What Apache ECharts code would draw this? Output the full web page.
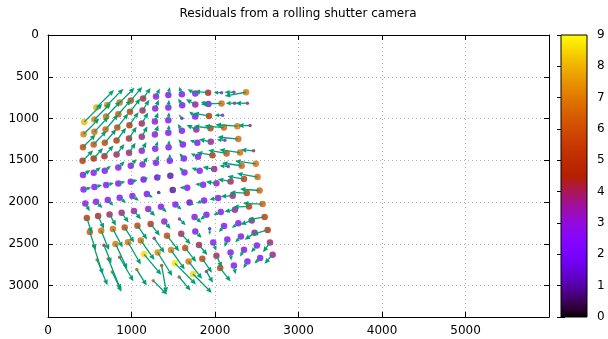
<!DOCTYPE html>
<html>
<head>
<meta charset="utf-8">
<script src="https://cdn.jsdelivr.net/npm/echarts@6/dist/echarts.min.js"></script>
<title>Residuals from a rolling shutter camera</title>
<style>
  html, body { margin: 0; padding: 0; background: #fff; }
  #main { width: 608px; height: 339px; }
</style>
</head>
<body>
<div id="main"></div>
<script>
// one array per row of the calibration grid (top to bottom)
// each point: [x, y, residual, direction (deg, 0 = right, 90 = up), arrow length, small marker]
var rowA = [
  [580, 869, 7.8, 45, 7.8, 0], [709, 837, 7.0, 45, 7.2, 0], [858, 809, 6.5, 45, 6.6, 0],
  [991, 785, 5.5, 50, 5.6, 0], [1139, 761, 4.2, 55, 4.1, 0], [1293, 737, 2.8, 65, 2.8, 0],
  [1441, 717, 2.5, 80, 2.5, 0], [1603, 709, 2.5, 110, 2.5, 0], [1764, 701, 2.8, 150, 2.8, 0],
  [1917, 690, 4.3, 175, 4.3, 0], [2078, 690, 2.5, 180, 2.5, 1], [2226, 685, 3.0, 180, 3.0, 1],
  [2371, 685, 6.8, 190, 6.8, 0]
];
var rowB = [
  [435, 1040, 8.0, 45, 8.0, 0], [556, 1012, 7.0, 45, 7.2, 0], [697, 976, 6.5, 47, 6.6, 0],
  [842, 948, 6.0, 48, 6.0, 0], [982, 920, 5.2, 52, 5.3, 0], [1132, 905, 4.0, 58, 4.0, 0],
  [1284, 881, 3.0, 68, 3.0, 0], [1441, 869, 2.5, 85, 2.5, 0], [1607, 842, 2.5, 120, 2.5, 0],
  [1764, 833, 3.5, 150, 3.4, 0], [1921, 825, 2.5, 165, 2.5, 0], [2078, 819, 6.5, 182, 6.5, 0],
  [2235, 816, 2.8, 180, 2.8, 1], [2388, 816, 3.8, 180, 3.8, 1]
];
var rowC = [
  [426, 1187, 7.0, 45, 7.0, 0], [556, 1159, 6.5, 47, 6.5, 0], [689, 1132, 6.2, 50, 6.2, 0],
  [830, 1108, 5.5, 52, 5.6, 0], [975, 1079, 5.0, 55, 5.0, 0], [1123, 1060, 4.0, 60, 4.0, 0],
  [1280, 1036, 3.0, 70, 3.0, 0], [1441, 1019, 2.5, 85, 2.5, 0], [1603, 995, 1.5, 130, 1.5, 1],
  [1764, 976, 2.5, 140, 2.5, 0], [1927, 968, 5.0, 170, 5.0, 0], [2090, 960, 2.5, 180, 2.5, 1]
];
var rowD = [
  [419, 1342, 5.5, 45, 5.6, 0], [547, 1311, 5.8, 47, 5.9, 0], [680, 1291, 5.5, 50, 5.6, 0],
  [821, 1263, 5.0, 53, 5.0, 0], [970, 1239, 4.2, 57, 4.4, 0], [1123, 1219, 3.8, 62, 3.8, 0],
  [1280, 1191, 3.0, 70, 3.1, 0], [1441, 1171, 2.5, 85, 2.5, 0], [1603, 1147, 2.5, 120, 2.5, 0],
  [1776, 1132, 3.5, 155, 3.4, 0], [1945, 1117, 5.2, 172, 5.3, 0], [2106, 1108, 6.3, 175, 6.2, 0],
  [2267, 1091, 6.8, 176, 6.9, 0], [2420, 1084, 3.8, 180, 3.8, 1]
];
var rowE = [
  [414, 1506, 4.8, 45, 4.7, 0], [547, 1478, 4.5, 48, 4.4, 0], [676, 1450, 4.3, 50, 4.4, 0],
  [821, 1430, 4.0, 53, 4.1, 0], [970, 1410, 3.8, 57, 3.8, 0], [1123, 1386, 3.0, 62, 3.1, 0],
  [1284, 1362, 2.6, 70, 2.5, 0], [1444, 1342, 2.3, 85, 2.2, 0], [1615, 1311, 2.3, 130, 2.2, 0],
  [1788, 1291, 2.4, 160, 2.5, 0], [1949, 1279, 3.6, 168, 3.8, 0], [2118, 1261, 2.5, 175, 2.5, 1],
  [2279, 1246, 6.5, 174, 6.6, 0]
];
var rowF = [
  [419, 1677, 2.8, 35, 2.8, 0], [547, 1649, 2.7, 38, 2.8, 0], [680, 1625, 2.6, 40, 2.5, 0],
  [842, 1586, 2.8, 45, 2.8, 0], [991, 1565, 2.7, 50, 2.8, 0], [1132, 1550, 2.7, 55, 2.8, 0],
  [1293, 1530, 2.4, 70, 2.5, 0], [1458, 1506, 2.3, 90, 2.2, 0], [1627, 1478, 2.2, 130, 2.2, 0],
  [1796, 1458, 2.5, 155, 2.5, 0], [1969, 1438, 5.0, 170, 5.0, 0], [2138, 1418, 5.8, 170, 5.9, 0],
  [2299, 1407, 6.5, 172, 6.6, 0], [2461, 1386, 4.0, 175, 4.0, 1]
];
var rowG = [
  [426, 1849, 2.6, 15, 2.5, 0], [556, 1820, 2.5, 15, 2.5, 0], [697, 1796, 2.5, 15, 2.5, 0],
  [842, 1777, 2.4, 15, 2.3, 0], [991, 1757, 2.2, 15, 2.2, 0], [1144, 1729, 1.7, 20, 1.6, 0],
  [1308, 1705, 1.5, 30, 1.4, 0], [1465, 1685, 1.2, 90, 1.1, 0], [1634, 1646, 2.3, 135, 2.3, 0],
  [1816, 1625, 2.7, 160, 2.7, 0], [1990, 1605, 3.7, 170, 3.7, 0], [2159, 1574, 2.8, 175, 2.8, 1],
  [2319, 1565, 6.3, 172, 6.3, 0], [2488, 1542, 6.6, 172, 6.6, 0]
];
var rowH = [
  [447, 2016, 2.7, -60, 2.8, 0], [576, 1996, 2.7, -45, 2.8, 0], [716, 1975, 2.5, -45, 2.5, 0],
  [858, 1948, 2.6, -40, 2.6, 0], [1011, 1928, 2.5, -35, 2.5, 0], [1184, 1904, 2.3, -30, 2.2, 0],
  [1325, 1885, 0.8, -20, 0.8, 1], [1494, 1856, 1.0, 30, 1.0, 0], [1667, 1828, 2.4, 180, 2.4, 0],
  [1857, 1793, 2.5, 175, 2.5, 0], [2017, 1775, 3.3, 172, 3.4, 0], [2186, 1753, 4.0, 170, 4.1, 0],
  [2347, 1724, 5.2, 170, 5.3, 0], [2509, 1700, 6.5, 170, 6.6, 0]
];
var rowI = [
  [465, 2189, 5.0, -72, 5.0, 0], [600, 2167, 4.3, -65, 4.4, 0], [737, 2147, 4.0, -60, 4.1, 0],
  [882, 2127, 3.8, -55, 3.8, 0], [1030, 2107, 3.5, -50, 3.4, 0], [1200, 2083, 3.0, -45, 3.1, 0],
  [1353, 2055, 2.5, -45, 2.5, 0], [1526, 2028, 2.5, -40, 2.5, 0], [1695, 2004, 1.5, -30, 1.6, 0],
  [1869, 1980, 2.5, 200, 2.5, 0], [2038, 1951, 2.7, 190, 2.8, 0], [2211, 1924, 3.8, 183, 3.8, 0],
  [2380, 1892, 5.2, 178, 5.3, 0], [2533, 1861, 6.3, 176, 6.2, 0]
];
var rowJ = [
  [501, 2357, 6.0, -72, 6.0, 0], [637, 2342, 6.5, -68, 6.6, 0], [777, 2322, 6.5, -62, 6.6, 0],
  [918, 2303, 5.5, -58, 5.6, 0], [1071, 2282, 5.3, -55, 5.3, 0], [1229, 2261, 4.8, -52, 4.7, 0],
  [1393, 2231, 3.0, -50, 3.1, 0], [1574, 2202, 3.0, -45, 2.8, 1], [1755, 2178, 2.8, -40, 2.8, 0],
  [1897, 2151, 2.5, 220, 2.5, 0], [2069, 2119, 2.6, 200, 2.5, 0], [2238, 2091, 3.5, 190, 3.4, 0],
  [2407, 2052, 5.0, 182, 5.0, 0], [2569, 2023, 6.2, 178, 6.2, 0]
];
var rowK = [
  [547, 2525, 5.5, -72, 9.4, 1], [670, 2515, 4.0, -68, 6.2, 1], [809, 2500, 6.8, -65, 8.7, 0],
  [958, 2480, 6.7, -60, 8.1, 0], [1111, 2458, 6.5, -55, 7.5, 0], [1272, 2434, 3.8, -55, 5.6, 1],
  [1425, 2402, 5.5, -52, 6.2, 0], [1595, 2380, 4.0, -48, 4.4, 0], [1764, 2352, 2.7, -45, 2.8, 0],
  [1936, 2318, 1.8, -90, 1.9, 1], [2108, 2285, 2.5, 230, 2.5, 0], [2279, 2253, 2.6, 215, 2.5, 0],
  [2440, 2219, 3.7, 200, 3.8, 0], [2594, 2178, 5.2, 190, 5.3, 0]
];
var rowL = [
  [588, 2689, 6.3, -68, 8.7, 1], [721, 2677, 6.0, -68, 10.6, 1], [858, 2661, 5.5, -60, 8.7, 1],
  [1151, 2625, 8.5, -50, 8.4, 0], [1313, 2603, 7.2, -58, 8.7, 0], [1474, 2574, 6.8, -55, 7.5, 0],
  [1643, 2548, 5.5, -52, 5.6, 0], [1808, 2513, 4.0, -50, 4.1, 0], [1978, 2482, 2.7, -70, 2.8, 0],
  [2147, 2447, 2.6, 250, 2.5, 0], [2310, 2412, 2.7, 225, 2.5, 0], [2473, 2368, 3.6, 215, 3.8, 0],
  [2630, 2333, 4.8, 197, 5.0, 0]
];
var rowM = [
  [769, 2836, 6.3, -65, 6.9, 1], [1063, 2808, 6.2, -58, 5.9, 1], [1361, 2760, 5.3, -80, 8.7, 1],
  [1520, 2733, 8.7, -45, 9.4, 0], [1683, 2710, 6.8, -52, 6.9, 0], [1848, 2679, 5.3, -55, 5.3, 0],
  [2017, 2641, 4.0, -65, 4.1, 0], [2186, 2603, 2.6, -85, 2.5, 0], [2347, 2569, 2.6, 240, 2.5, 0],
  [2501, 2519, 2.7, 230, 2.8, 0], [2658, 2482, 3.8, 235, 3.8, 0]
];
var rowN = [
  [1260, 2940, 6.3, -45, 6.2, 1], [1570, 2896, 5.5, -50, 5.6, 1], [1736, 2860, 8.5, -45, 8.4, 0],
  [1897, 2829, 4.0, -60, 4.1, 1], [2062, 2790, 5.2, -52, 5.3, 0], [2226, 2758, 2.7, -80, 2.8, 0],
  [2388, 2710, 2.6, 240, 2.5, 0], [2540, 2668, 2.5, 225, 2.5, 0], [2690, 2629, 3.7, 228, 3.8, 0]
];

var rows = [rowA, rowB, rowC, rowD, rowE, rowF, rowG, rowH, rowI, rowJ, rowK, rowL, rowM, rowN];
var points = [].concat.apply([], rows);

var FONT = 'DejaVu Sans';
var ARROW = '#009e73';
var VSCALE = 38; // image units per residual unit

// gnuplot default palette (rgbformulae 7,5,15)
function pal(t) {
  var r = Math.sqrt(t), g = t * t * t, b = Math.max(0, Math.sin(2 * Math.PI * t));
  return 'rgb(' + Math.round(r * 255) + ',' + Math.round(g * 255) + ',' + Math.round(b * 255) + ')';
}
var palColors = [], barStops = [];
for (var i = 0; i <= 40; i++) {
  palColors.push(pal(i / 40));
  barStops.push({ offset: i / 40, color: pal(1 - i / 40) });
}

function renderArrow(params, api) {
  var x = api.value(0), y = api.value(1);
  var ang = api.value(3) * Math.PI / 180, len = api.value(4) * VSCALE;
  var p0 = api.coord([x, y]);
  var p1 = api.coord([x + Math.cos(ang) * len, y - Math.sin(ang) * len]);
  var dx = p1[0] - p0[0], dy = p1[1] - p0[1];
  var L = Math.sqrt(dx * dx + dy * dy);
  if (L < 0.5) return;
  var ux = dx / L, uy = dy / L;
  var h = Math.min(5.5, L * 0.55), w = h * 0.45;
  var bx = p1[0] - ux * h, by = p1[1] - uy * h;
  return {
    type: 'group',
    children: [
      { type: 'line', shape: { x1: p0[0], y1: p0[1], x2: bx, y2: by },
        style: { stroke: ARROW, lineWidth: 1.3 } },
      { type: 'polygon', shape: { points: [[p1[0], p1[1]], [bx - uy * w, by + ux * w], [bx + uy * w, by - ux * w]] },
        style: { fill: ARROW } }
    ]
  };
}

function plain(v) { return String(v); }

var axisLineBlack = { show: true, onZero: false, lineStyle: { color: '#000', width: 1 } };
var tickIn = { show: true, inside: true, length: 5, lineStyle: { color: '#000' } };
var gridDots = { show: true, lineStyle: { color: '#b4b4b4', width: 1, type: [1, 3] } };
var labelStyle = { color: '#000', fontSize: 12, fontFamily: FONT, formatter: plain };

var chart = echarts.init(document.getElementById('main'));
chart.setOption({
  animation: false,
  backgroundColor: '#fff',
  graphic: [{
    type: 'text', x: 298, y: 14,
    style: { text: 'Residuals from a rolling shutter camera', fill: '#000', font: '12px ' + FONT,
      textAlign: 'center', textVerticalAlign: 'middle' }
  }],
  grid: [
    { left: 48, right: 59, top: 35, bottom: 22 },
    { left: 561, top: 35, width: 26, height: 282 }
  ],
  xAxis: [
    { gridIndex: 0, type: 'value', min: 0, max: 5999, interval: 1000, position: 'bottom',
      axisLine: axisLineBlack, axisTick: tickIn, splitLine: gridDots,
      axisLabel: Object.assign({ margin: 8, showMaxLabel: false }, labelStyle) },
    { gridIndex: 0, type: 'value', min: 0, max: 5999, interval: 1000, position: 'top',
      axisLine: axisLineBlack, axisTick: tickIn, splitLine: { show: false }, axisLabel: { show: false } },
    { gridIndex: 1, type: 'value', min: 0, max: 1, show: false }
  ],
  yAxis: [
    { gridIndex: 0, type: 'value', min: 0, max: 3375, interval: 500, inverse: true, position: 'left',
      axisLine: axisLineBlack, axisTick: tickIn, splitLine: gridDots,
      axisLabel: Object.assign({ margin: 9, showMaxLabel: false }, labelStyle) },
    { gridIndex: 0, type: 'value', min: 0, max: 3375, interval: 500, inverse: true, position: 'right',
      axisLine: axisLineBlack, axisTick: tickIn, splitLine: { show: false }, axisLabel: { show: false } },
    { gridIndex: 1, type: 'value', min: 0, max: 9, interval: 1, position: 'right',
      axisLine: { show: false }, axisTick: { show: true, inside: true, length: 4, lineStyle: { color: '#000' } },
      splitLine: { show: false }, axisLabel: Object.assign({ margin: 10 }, labelStyle) },
    { gridIndex: 1, type: 'value', min: 0, max: 9, interval: 1, position: 'left',
      axisLine: { show: false }, axisTick: { show: true, inside: true, length: 4, lineStyle: { color: '#000' } },
      splitLine: { show: false }, axisLabel: { show: false } }
  ],
  visualMap: {
    show: false, type: 'continuous', min: 0, max: 9, dimension: 2, seriesIndex: 0,
    inRange: { color: palColors }
  },
  series: [
    {
      type: 'scatter', xAxisIndex: 0, yAxisIndex: 0, z: 2,
      symbol: 'circle',
      symbolSize: function (v) { return v[5] ? 3.5 : 6.5; },
      data: points
    },
    {
      type: 'custom', xAxisIndex: 0, yAxisIndex: 0, z: 3,
      renderItem: renderArrow,
      encode: { x: 0, y: 1 },
      data: points
    },
    {
      type: 'custom', xAxisIndex: 2, yAxisIndex: 2, z: 2,
      data: [[0, 0]],
      renderItem: function (params, api) {
        var a = api.coord([0, 9]), b = api.coord([1, 0]);
        return {
          type: 'rect',
          shape: { x: a[0], y: a[1], width: b[0] - a[0], height: b[1] - a[1] },
          style: { fill: new echarts.graphic.LinearGradient(0, 0, 0, 1, barStops), stroke: '#000', lineWidth: 1 }
        };
      }
    }
  ]
});
</script>
</body>
</html>
